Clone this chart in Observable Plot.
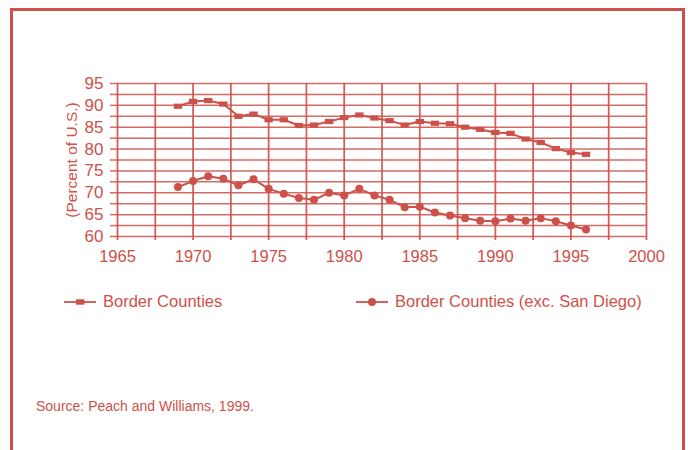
<!DOCTYPE html>
<html>
<head>
<meta charset="utf-8">
<script src="https://cdn.jsdelivr.net/npm/d3@7"></script>
<script src="https://cdn.jsdelivr.net/npm/@observablehq/plot@0.6"></script>
<style>
  html, body { margin: 0; padding: 0; background: #fff; width: 688px; height: 450px; overflow: hidden; }
  body { position: relative; font-family: "Liberation Sans", Arial, sans-serif; }
  #frame { position: absolute; left: 10px; top: 8px; width: 675px; height: 460px; border: 3px solid #cd514a; box-sizing: border-box; }
  #chart { position: absolute; left: 0; top: 0; }
  .leg { position: absolute; top: 292px; font-size: 16.5px; color: #cd514a; display: flex; align-items: center; }
  .leg svg { margin-right: 7px; }
  #caption { position: absolute; left: 36px; top: 398px; font-size: 14px; color: #cd514a; }
</style>
</head>
<body>
<div id="frame"></div>
<div id="chart"></div>
<div class="leg" id="leg1" style="left:64px"></div>
<div class="leg" id="leg2" style="left:356px"></div>
<div id="caption">Source: Peach and Williams, 1999.</div>
<script>
const color = "#cd514a";
const years = [1969, 1970, 1971, 1972, 1973, 1974, 1975, 1976, 1977, 1978, 1979, 1980, 1981, 1982,
               1983, 1984, 1985, 1986, 1987, 1988, 1989, 1990, 1991, 1992, 1993, 1994, 1995, 1996];
const borderCounties = [89.8, 90.9, 91.1, 90.3, 87.5, 88.0, 86.7, 86.7, 85.4, 85.5, 86.3, 87.2, 87.8, 87.1,
                        86.5, 85.5, 86.3, 85.9, 85.8, 85.0, 84.5, 83.8, 83.6, 82.3, 81.5, 80.1, 79.2, 78.8];
const borderExSanDiego = [71.3, 72.7, 73.8, 73.2, 71.7, 73.1, 70.9, 69.8, 68.8, 68.4, 70.0, 69.4, 70.9, 69.4,
                          68.4, 66.7, 66.8, 65.5, 64.8, 64.2, 63.6, 63.5, 64.1, 63.6, 64.2, 63.5, 62.5, 61.6];
const seriesNames = ["Border Counties", "Border Counties (exc. San Diego)"];
const xTicks = [1965, 1970, 1975, 1980, 1985, 1990, 1995, 2000];
const yTicks = [60, 65, 70, 75, 80, 85, 90, 95];
const xGrid = [1965, 1967.5, 1970, 1972.5, 1975, 1977.5, 1980, 1982.5, 1985, 1987.5, 1990, 1992.5, 1995, 1997.5, 2000];
const yGrid = [60, 62.5, 65, 67.5, 70, 72.5, 75, 77.5, 80, 82.5, 85, 87.5, 90, 92.5, 95];

const s1 = years.map((y, i) => ({year: y, value: borderCounties[i]}));
const s2 = years.map((y, i) => ({year: y, value: borderExSanDiego[i]}));

// wide flat rectangle marker like the reference's squares
const wideRect = {
  draw(context, size) {
    const w = 4.2, h = 2.6;
    context.moveTo(-w, -h); context.lineTo(w, -h); context.lineTo(w, h); context.lineTo(-w, h); context.closePath();
  }
};

const chart = Plot.plot({
  width: 688,
  height: 270,
  marginLeft: 117,
  marginRight: 42,
  marginTop: 83,
  marginBottom: 34,
  style: {fontFamily: "'Liberation Sans', Arial, sans-serif", background: "transparent", color: color},
  x: {domain: [1965, 2000]},
  y: {domain: [60, 95]},
  marks: [
    Plot.gridX(xGrid, {stroke: color, strokeOpacity: 0.9, strokeWidth: 1.8}),
    Plot.gridY(yGrid, {stroke: color, strokeOpacity: 0.85, strokeWidth: 1.5}),
    Plot.axisX(xGrid, {tickSize: 4, text: null, stroke: color, strokeWidth: 1.8, strokeOpacity: 0.9, label: null}),
    Plot.axisY(yGrid, {tickSize: 7, text: null, stroke: color, strokeWidth: 1.5, strokeOpacity: 0.85, label: null}),
    Plot.axisX(xTicks, {tickSize: 0, tickPadding: 14, fontSize: 16.5, fill: color, tickFormat: d => String(d), label: null}),
    Plot.axisY(yTicks, {tickSize: 0, tickPadding: 14, fontSize: 17, fill: color,
      label: "(Percent of U.S.)", labelAnchor: "center", labelArrow: "none", labelOffset: 52}),
    Plot.line(s1, {x: "year", y: "value", stroke: color, strokeWidth: 2}),
    Plot.dot(s1, {x: "year", y: "value", symbol: wideRect, r: 4, fill: color, stroke: "none"}),
    Plot.line(s2, {x: "year", y: "value", stroke: color, strokeWidth: 2}),
    Plot.dot(s2, {x: "year", y: "value", r: 4, fill: color, stroke: "none"})
  ]
});
chart.querySelectorAll("[aria-label='y-axis label'] text").forEach(t => t.setAttribute("font-size", "15.5"));
document.getElementById("chart").appendChild(chart);

function legendSymbol(kind) {
  const ns = "http://www.w3.org/2000/svg";
  const svg = document.createElementNS(ns, "svg");
  svg.setAttribute("width", 32); svg.setAttribute("height", 12);
  const line = document.createElementNS(ns, "line");
  line.setAttribute("x1", 0); line.setAttribute("x2", 32); line.setAttribute("y1", 6); line.setAttribute("y2", 6);
  line.setAttribute("stroke", color); line.setAttribute("stroke-width", 1.8);
  svg.appendChild(line);
  let m;
  if (kind === "square") {
    m = document.createElementNS(ns, "rect");
    m.setAttribute("x", 12); m.setAttribute("y", 3.3); m.setAttribute("width", 8.4); m.setAttribute("height", 5.4);
  } else {
    m = document.createElementNS(ns, "circle");
    m.setAttribute("cx", 16); m.setAttribute("cy", 6); m.setAttribute("r", 4);
  }
  m.setAttribute("fill", color);
  svg.appendChild(m);
  return svg;
}
const l1 = document.getElementById("leg1");
l1.appendChild(legendSymbol("square"));
l1.appendChild(document.createTextNode(seriesNames[0]));
const l2 = document.getElementById("leg2");
l2.appendChild(legendSymbol("circle"));
l2.appendChild(document.createTextNode(seriesNames[1]));
</script>
</body>
</html>
